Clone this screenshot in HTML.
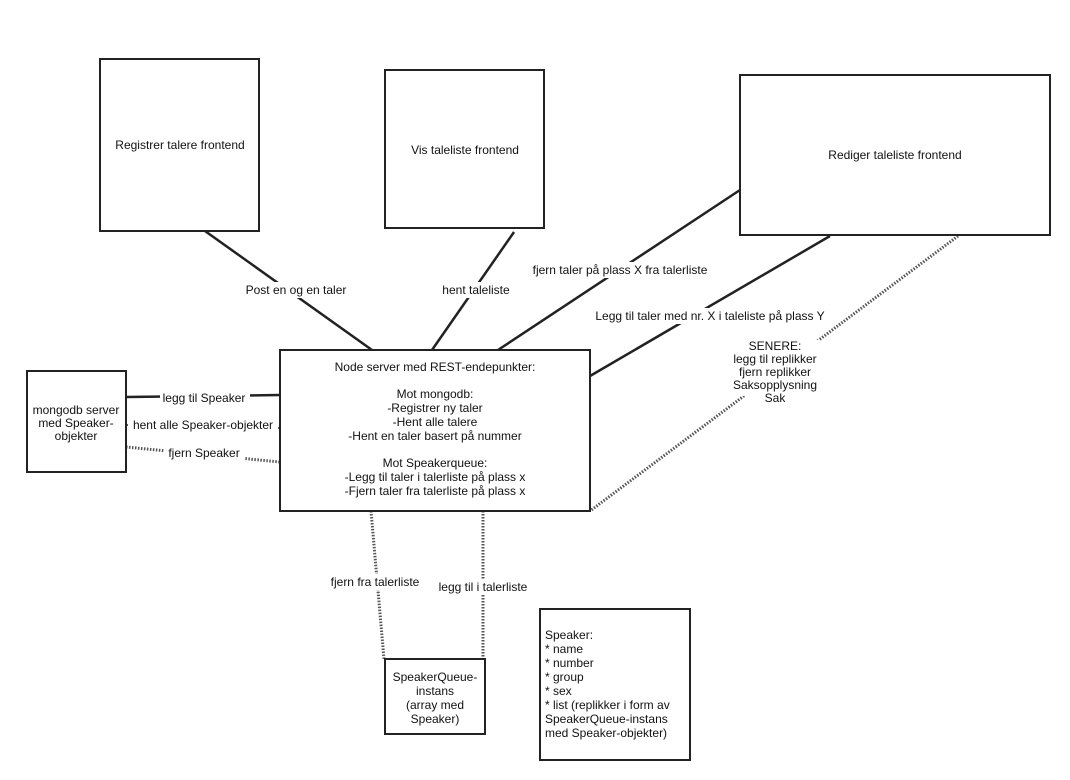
<!DOCTYPE html>
<html><head><meta charset="utf-8"><style>
body{margin:0;background:#fff}
svg{display:block;font-family:"Liberation Sans",sans-serif;font-size:12px}
</style></head><body>
<svg width="1070" height="780" viewBox="0 0 1070 780">
<rect width="1070" height="780" fill="#fff"/>
<g stroke="#222" stroke-width="2.5" fill="none">
<line x1="205" y1="231" x2="372" y2="350"/>
<line x1="514" y1="232" x2="432" y2="350"/>
<line x1="740" y1="190" x2="498" y2="350"/>
<line x1="830" y1="236" x2="590" y2="376"/>
<line x1="126" y1="397" x2="280" y2="395"/>
<line x1="126" y1="425" x2="280" y2="428" stroke-width="1.5"/>
</g>
<g stroke="#555" stroke-width="3" fill="none" stroke-dasharray="1.5 1.5">
<line x1="958" y1="236" x2="590" y2="511"/>
<line x1="126" y1="447" x2="280" y2="462"/>
<line x1="371" y1="511" x2="384" y2="659"/>
<line x1="483" y1="511" x2="483" y2="659"/>
</g>
<g fill="#fff" stroke="#222" stroke-width="2">
<rect x="100" y="59" width="159" height="172"/>
<rect x="385" y="70" width="159" height="158"/>
<rect x="740" y="75" width="310" height="160"/>
<rect x="280" y="350" width="310" height="161"/>
<rect x="27" y="371" width="99" height="101"/>
<rect x="385" y="659" width="100" height="75"/>
<rect x="540" y="609" width="150" height="151"/>
</g>
<g fill="#fff">
<rect x="224" y="282" width="144" height="16"/>
<rect x="438" y="282" width="76" height="16"/>
<rect x="528" y="262" width="184" height="16"/>
<rect x="590" y="308" width="240" height="16"/>
<rect x="730" y="340" width="90" height="56"/>
<rect x="160" y="390" width="90" height="16"/>
<rect x="128" y="417" width="150" height="16"/>
<rect x="164" y="445" width="80" height="16"/>
<rect x="328" y="574" width="94" height="16"/>
<rect x="436" y="579" width="94" height="16"/>
</g>
<g fill="#111" text-anchor="middle">
<text x="180" y="149">Registrer talere frontend</text>
<text x="465" y="154">Vis taleliste frontend</text>
<text x="895" y="159">Rediger taleliste frontend</text>
<text x="296" y="294">Post en og en taler</text>
<text x="476" y="294">hent taleliste</text>
<text x="620" y="274">fjern taler på plass X fra talerliste</text>
<text x="710" y="320">Legg til taler med nr. X i taleliste på plass Y</text>
<text x="775" y="350">SENERE:</text>
<text x="775" y="363">legg til replikker</text>
<text x="775" y="376">fjern replikker</text>
<text x="775" y="389">Saksopplysning</text>
<text x="775" y="402">Sak</text>
<text x="204" y="402">legg til Speaker</text>
<text x="203" y="429">hent alle Speaker-objekter</text>
<text x="204" y="457">fjern Speaker</text>
<text x="76" y="414">mongodb server</text>
<text x="76" y="427">med Speaker-</text>
<text x="76" y="440">objekter</text>
<text x="435" y="371">Node server med REST-endepunkter:</text>
<text x="435" y="398">Mot mongodb:</text>
<text x="435" y="412">-Registrer ny taler</text>
<text x="435" y="426">-Hent alle talere</text>
<text x="435" y="440">-Hent en taler basert på nummer</text>
<text x="435" y="467">Mot Speakerqueue:</text>
<text x="435" y="481">-Legg til taler i talerliste på plass x</text>
<text x="435" y="495">-Fjern taler fra talerliste på plass x</text>
<text x="375" y="586">fjern fra talerliste</text>
<text x="483" y="591">legg til i talerliste</text>
<text x="435" y="681">SpeakerQueue-</text>
<text x="435" y="695">instans</text>
<text x="435" y="709">(array med</text>
<text x="435" y="723">Speaker)</text>
</g>
<g fill="#111">
<text x="545" y="639">Speaker:</text>
<text x="545" y="653">* name</text>
<text x="545" y="667">* number</text>
<text x="545" y="681">* group</text>
<text x="545" y="695">* sex</text>
<text x="545" y="709">* list (replikker i form av</text>
<text x="545" y="723">SpeakerQueue-instans</text>
<text x="545" y="737">med Speaker-objekter)</text>
</g>
</svg>
</body></html>
